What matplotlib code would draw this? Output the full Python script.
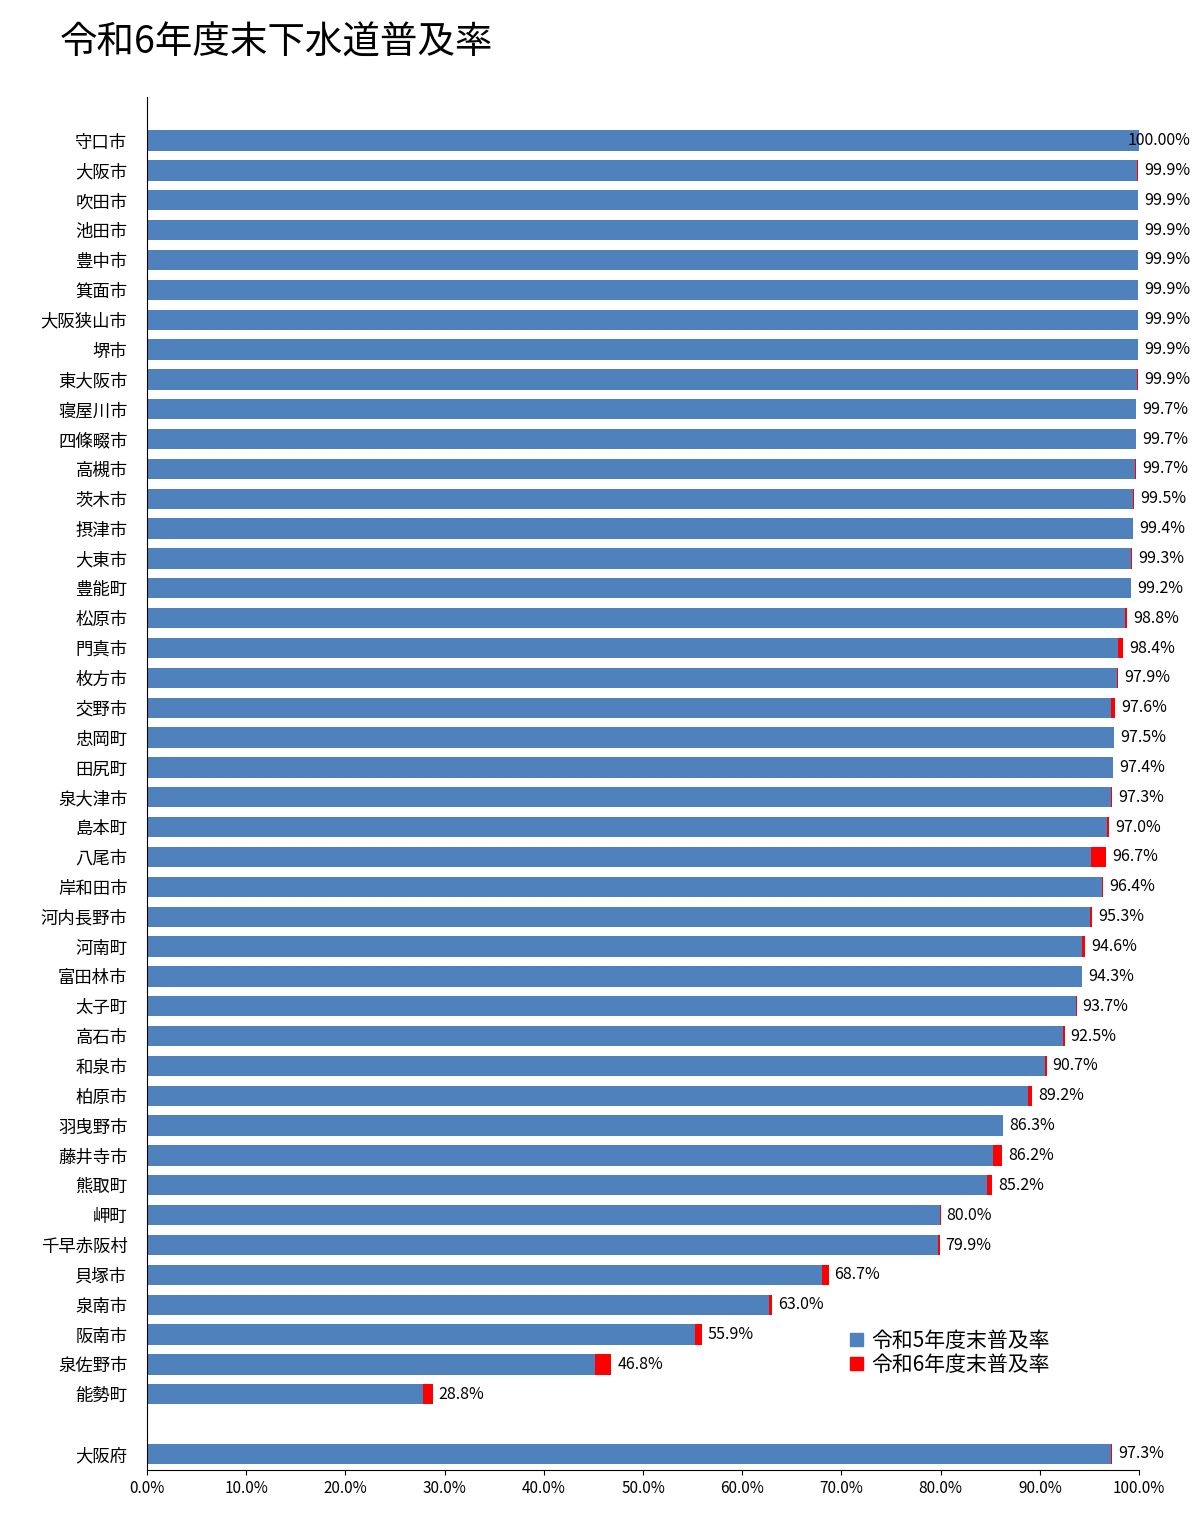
import matplotlib
matplotlib.use("Agg")
import matplotlib.pyplot as plt
from matplotlib.patches import Patch

plt.rcParams["font.family"] = "Noto Sans CJK JP"

cities = ["守口市","大阪市","吹田市","池田市","豊中市","箕面市","大阪狭山市","堺市","東大阪市","寝屋川市",
          "四條畷市","高槻市","茨木市","摂津市","大東市","豊能町","松原市","門真市","枚方市","交野市",
          "忠岡町","田尻町","泉大津市","島本町","八尾市","岸和田市","河内長野市","河南町","富田林市","太子町",
          "高石市","和泉市","柏原市","羽曳野市","藤井寺市","熊取町","岬町","千早赤阪村","貝塚市","泉南市",
          "阪南市","泉佐野市","能勢町","大阪府"]
r6 = [100.00,99.9,99.9,99.9,99.9,99.9,99.9,99.9,99.9,99.7,
      99.7,99.7,99.5,99.4,99.3,99.2,98.8,98.4,97.9,97.6,
      97.5,97.4,97.3,97.0,96.7,96.4,95.3,94.6,94.3,93.7,
      92.5,90.7,89.2,86.3,86.2,85.2,80.0,79.9,68.7,63.0,
      55.9,46.8,28.8,97.3]
r5 = [100.00,99.8,99.9,99.9,99.9,99.9,99.9,99.9,99.8,99.7,
      99.7,99.6,99.4,99.4,99.2,99.2,98.6,97.9,97.8,97.2,
      97.5,97.4,97.2,96.8,95.2,96.3,95.1,94.2,94.3,93.6,
      92.3,90.5,88.8,86.3,85.3,84.7,79.9,79.7,68.0,62.7,
      55.2,45.2,27.8,97.2]
labels = ["100.00%"] + [f"{v:.1f}%" for v in r6[1:]]
xticks = [0,10,20,30,40,50,60,70,80,90,100]

fig = plt.figure(figsize=(12, 15.35), dpi=100)
ax = fig.add_axes([0.1225, 0.0423, 0.8267, 0.8947])
ypos = list(range(43)) + [44]
blue = "#4f81bd"
ax.barh(ypos, [v/100 for v in r5], height=0.68, color=blue)
ax.barh(ypos, [(b-a)/100 for a, b in zip(r5, r6)], left=[v/100 for v in r5], height=0.68, color="#ff0000")
for y, v, t in zip(ypos, r6, labels):
    x = v/100 - (0.012 if t == "100.00%" else -0.006)
    ax.text(x, y, t, va="center", ha="left", fontsize=11.5)
ax.set_ylim(44.54, -1.47)
ax.set_xlim(0, 1)
ax.set_yticks(ypos)
ax.set_yticklabels(cities, fontsize=12.5)
ax.tick_params(axis="y", length=0, pad=14)
ax.set_xticks([t/100 for t in xticks])
ax.set_xticklabels([f"{t:.1f}%" for t in xticks], fontsize=11)
for s in ["top", "right"]:
    ax.spines[s].set_visible(False)
fig.text(0.05, 0.972, "令和6年度末下水道普及率", fontsize=27, va="center")
ax.legend(handles=[Patch(color=blue, label="令和5年度末普及率"), Patch(color="#ff0000", label="令和6年度末普及率")],
          loc="lower left", bbox_to_anchor=(0.69, 0.055), frameon=False, fontsize=15,
          handlelength=0.6, handleheight=0.6, handletextpad=0.4, labelspacing=0.1)
fig.savefig("out.png", dpi=100)
